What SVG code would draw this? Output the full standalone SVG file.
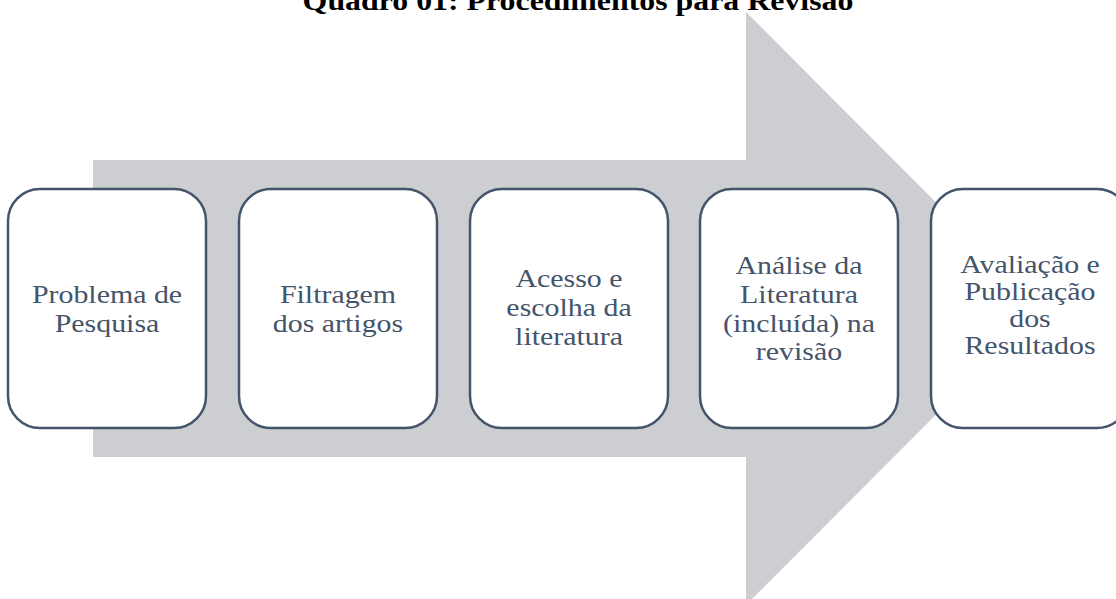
<svg xmlns="http://www.w3.org/2000/svg" width="1116" height="599" viewBox="0 0 1116 599">
<style>
.box{fill:#fff;stroke:#44546A;stroke-width:2.5}
.lbl{font-family:"Liberation Serif","Times New Roman",serif;font-size:26px;fill:#44546A;text-anchor:middle}
.title{font-family:"Liberation Serif","Times New Roman",serif;font-size:27px;font-weight:bold;fill:#000;text-anchor:middle}
</style>
<rect width="1116" height="599" fill="#fff"/>
<g id="title" transform="translate(578,10) scale(1.18,1)"><text class="title" x="0" y="0">Quadro 01: Procedimentos para Revisão</text></g>
<g id="connectors"><polygon id="arrow" points="93,160 746,160 746,12 1042,308.5 746,605 746,457 93,457" fill="#CDCED2"/></g>
<g id="n1"><rect class="box" x="8" y="189" width="198" height="239" rx="32"/>
<g transform="translate(107,0) scale(1.15,1)"><text class="lbl" y="303">Problema de</text><text class="lbl" y="332">Pesquisa</text></g></g>
<g id="n2"><rect class="box" x="239" y="189" width="198" height="239" rx="32"/>
<g transform="translate(338,0) scale(1.15,1)"><text class="lbl" y="303">Filtragem</text><text class="lbl" y="332">dos artigos</text></g></g>
<g id="n3"><rect class="box" x="470" y="189" width="198" height="239" rx="32"/>
<g transform="translate(569,0) scale(1.15,1)"><text class="lbl" y="287">Acesso e</text><text class="lbl" y="316">escolha da</text><text class="lbl" y="345">literatura</text></g></g>
<g id="n4"><rect class="box" x="700" y="189" width="198" height="239" rx="32"/>
<g transform="translate(799,0) scale(1.15,1)"><text class="lbl" y="274">Análise da</text><text class="lbl" y="303">Literatura</text><text class="lbl" y="332">(incluída) na</text><text class="lbl" y="360">revisão</text></g></g>
<g id="n5"><rect class="box" x="931" y="189" width="198" height="239" rx="32"/>
<g transform="translate(1030,0) scale(1.15,1)"><text class="lbl" y="273">Avaliação e</text><text class="lbl" y="300">Publicação</text><text class="lbl" y="327">dos</text><text class="lbl" y="354">Resultados</text></g></g>
</svg>
